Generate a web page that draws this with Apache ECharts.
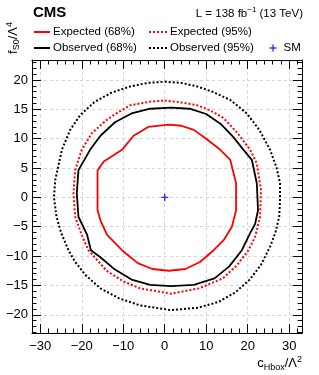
<!DOCTYPE html>
<html>
<head>
<meta charset="utf-8">
<script src="https://cdn.jsdelivr.net/npm/echarts@6/dist/echarts.min.js"></script>
<style>
html,body{margin:0;padding:0;background:#fff;}
#c{width:319px;height:375px;}
</style>
</head>
<body>
<div id="c"></div>
<script>
// ---- data ----
const xTickLabels = [-30, -20, -10, 0, 10, 20, 30];
const yTickLabels = [-20, -15, -10, -5, 0, 5, 10, 15, 20];
const xMinorTicks = [-32,-30,-28,-26,-24,-22,-20,-18,-16,-14,-12,-10,-8,-6,-4,-2,0,2,4,6,8,10,12,14,16,18,20,22,24,26,28,30,32];
const yMinorTicks = [-23,-22,-21,-20,-19,-18,-17,-16,-15,-14,-13,-12,-11,-10,-9,-8,-7,-6,-5,-4,-3,-2,-1,0,1,2,3,4,5,6,7,8,9,10,11,12,13,14,15,16,17,18,19,20,21,22,23];

const expected68 = [[1,12.4],[4,12.2],[7,11.5],[10,10],[13.4,8.1],[15.8,6.4],[17.2,2.4],[17.2,-2.2],[16.2,-5],[14.2,-7.3],[11.8,-9],[8.5,-11],[5,-12.2],[1,-12.5],[-3,-12.2],[-6.5,-11.2],[-10.3,-9],[-13.9,-6.4],[-15.5,-3.9],[-16.2,-2.2],[-16.2,4.6],[-14.7,6.1],[-10.3,8.1],[-7.5,10.5],[-4,12],[1,12.4]];

const observed68 = [[1.5,15.3],[6,15.1],[10,14.2],[13.5,12.5],[16.5,10.3],[19,8.1],[21,6.4],[22.2,2.4],[22.5,-2.2],[21.8,-4.5],[20.6,-6.1],[18.6,-9],[15.5,-11.8],[12,-13.8],[7,-14.9],[1.5,-15.1],[-3.5,-14.9],[-8,-14],[-12,-12.3],[-15.5,-10.2],[-17.8,-9],[-18.7,-6.4],[-20.8,-3.3],[-21.2,0.7],[-20.8,4.65],[-18,8.1],[-15.5,10.5],[-12,12.8],[-8,14.3],[-3.5,15.1],[1.5,15.3]];

const expected95 = [[0,16.5],[3.7,16.2],[7.8,15.7],[11,14.8],[14.2,13.5],[17.5,11],[20.6,8.1],[22.2,5.8],[23.2,1.3],[23,-3.3],[21.8,-6.7],[20.2,-9],[17.5,-11.5],[14,-13.8],[8.3,-15.5],[1.5,-16.4],[-5.9,-15.5],[-10,-14.3],[-14,-12.5],[-16.5,-10.5],[-18.4,-9],[-20,-6.4],[-21.6,-3.3],[-22,0.7],[-21.6,4.65],[-20,8.1],[-17.5,11],[-14,13.2],[-11,14.6],[-8.3,15.7],[-3.5,16.3],[0,16.5]];

const observed95 = [[0,19.7],[4,19.5],[7.8,18.9],[11.5,18],[15.8,16.6],[19.8,14.3],[22.8,11.5],[25.4,8.1],[27,5],[27.8,2.4],[27.8,-0.5],[27.6,-3.3],[26.7,-6],[25.4,-8.4],[23.2,-11.5],[20.5,-14],[17,-16.2],[13,-17.8],[8,-18.8],[1.5,-19.2],[-5.9,-18.4],[-11,-17.2],[-15.5,-15.5],[-19,-13.3],[-21.6,-11],[-23.2,-9],[-25,-6],[-26.1,-3.3],[-26.7,0],[-26.4,2.95],[-24.8,8.1],[-22.8,11.5],[-20.4,14],[-17,16.2],[-13,17.8],[-8.3,18.9],[-4,19.5],[0,19.7]];

const smPoint = [[0, 0]];

// ---- chart ----
const FONT = '"Liberation Sans", Arial, Helvetica, sans-serif';
const XMIN = -32, XMAX = 33.1, YMIN = -23.1, YMAX = 23.4;
const minus = v => String(v).replace('-', '\u2212');
const PLUS = 'path://M4,0 L6,0 L6,4 L10,4 L10,6 L6,6 L6,10 L4,10 L4,6 L0,6 L0,4 L4,4 Z';

function xAxisDef(pos, major, withLabels) {
  return {
    type: 'value', position: pos, min: XMIN, max: XMAX,
    axisLine: { show: major, onZero: false, lineStyle: { color: '#000', width: 1 } },
    axisTick: { show: true, inside: true, length: major ? 9 : 4.5,
      customValues: major ? xTickLabels : xMinorTicks, lineStyle: { color: '#000', width: 1 } },
    axisLabel: { show: withLabels, customValues: xTickLabels, formatter: minus,
      color: '#000', fontSize: 13, fontFamily: FONT, margin: 7 },
    splitLine: { show: major && withLabels, lineStyle: { color: '#d4d4d4', type: [3, 3], width: 1 } }
  };
}
function yAxisDef(pos, major, withLabels) {
  return {
    type: 'value', position: pos, min: YMIN, max: YMAX,
    axisLine: { show: major, onZero: false, lineStyle: { color: '#000', width: 1 } },
    axisTick: { show: true, inside: true, length: major ? 9 : 4.5,
      customValues: major ? yTickLabels : yMinorTicks, lineStyle: { color: '#000', width: 1 } },
    axisLabel: { show: withLabels, customValues: yTickLabels, formatter: minus,
      color: '#000', fontSize: 13, fontFamily: FONT, margin: 4 },
    splitLine: { show: major && withLabels, lineStyle: { color: '#d4d4d4', type: [3, 3], width: 1 } }
  };
}

const chart = echarts.init(document.getElementById('c'), null, { renderer: 'canvas' });
const lineSeries = (name, data, color, dotted) => ({
  name, type: 'line', data, xAxisIndex: 0, yAxisIndex: 0,
  symbol: 'none', smooth: false, silent: true, animation: false, z: 5,
  lineStyle: { color, width: dotted ? 2 : 1.8, type: dotted ? [2, 2] : 'solid' },
  itemStyle: { color }
});
const legendText = { fontSize: 11.5, color: '#000', fontFamily: FONT, lineHeight: 14, padding: [0, 0, 0, -2] };

chart.setOption({
  animation: false,
  backgroundColor: '#fff',
  textStyle: { fontFamily: FONT },
  grid: { left: 32, right: 17, top: 60, bottom: 42, containLabel: false },
  xAxis: [xAxisDef('bottom', true, true), xAxisDef('bottom', false, false),
          xAxisDef('top', true, false), xAxisDef('top', false, false)],
  yAxis: [yAxisDef('left', true, true), yAxisDef('left', false, false),
          yAxisDef('right', true, false), yAxisDef('right', false, false)],
  legend: [
    { orient: 'vertical', left: 33, top: 25, padding: 0, itemWidth: 16, itemHeight: 14, itemGap: 2,
      itemStyle: { opacity: 0 },
      data: ['Expected (68%)', 'Observed (68%)'], textStyle: legendText },
    { orient: 'vertical', left: 148, top: 25, padding: 0, itemWidth: 18, itemHeight: 14, itemGap: 2,
      itemStyle: { opacity: 0 },
      data: ['Expected (95%)', 'Observed (95%)'], textStyle: legendText },
    { orient: 'vertical', left: 269.5, top: 41, padding: 0, itemWidth: 7, itemHeight: 7, itemGap: 2,
      data: [{ name: 'SM', icon: PLUS }],
      textStyle: { fontSize: 11.5, color: '#000', fontFamily: FONT, lineHeight: 14, padding: [0, 0, 0, 2] } }
  ],
  series: [
    lineSeries('Expected (68%)', expected68, '#ff0000', false),
    lineSeries('Expected (95%)', expected95, '#ff0000', true),
    lineSeries('Observed (68%)', observed68, '#000000', false),
    lineSeries('Observed (95%)', observed95, '#000000', true),
    { name: 'SM', type: 'scatter', data: smPoint, xAxisIndex: 0, yAxisIndex: 0,
      symbol: PLUS, symbolSize: 7, itemStyle: { color: '#0000ff' }, z: 6, silent: true }
  ],
  graphic: [
    { type: 'text', left: 33, top: 5,
      style: { text: 'CMS', font: 'bold 15px ' + FONT, fill: '#000' } },
    { type: 'text', right: 16, top: 6,
      style: { text: '{n|L = 138 fb}{s|\u22121}{n| (13 TeV)}', fill: '#000',
        rich: { n: { fontSize: 11.5, fontFamily: FONT, lineHeight: 14, verticalAlign: 'bottom' },
                s: { fontSize: 8, fontFamily: FONT, lineHeight: 14, verticalAlign: 'top' } } } },
    { type: 'text', x: 13, y: 38, rotation: Math.PI / 2,
      style: { text: '{n|f}{b|S0}{n|/\u039B}{s|4}', fill: '#000', align: 'center', verticalAlign: 'middle',
        rich: { n: { fontSize: 13, fontFamily: FONT, lineHeight: 16, verticalAlign: 'middle' },
                b: { fontSize: 9, fontFamily: FONT, lineHeight: 16, verticalAlign: 'bottom' },
                s: { fontSize: 9, fontFamily: FONT, lineHeight: 16, verticalAlign: 'top' } } } },
    { type: 'text', right: 17, top: 355,
      style: { text: '{n|c}{b|Hbox}{n|/\u039B}{s|2}', fill: '#000',
        rich: { n: { fontSize: 13, fontFamily: FONT, lineHeight: 17, verticalAlign: 'middle' },
                b: { fontSize: 9, fontFamily: FONT, lineHeight: 17, verticalAlign: 'bottom' },
                s: { fontSize: 9, fontFamily: FONT, lineHeight: 17, verticalAlign: 'top' } } } }
  ]
});
</script>
</body>
</html>
